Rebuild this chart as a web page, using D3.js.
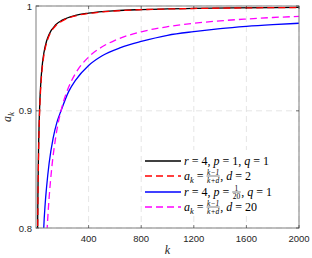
<!DOCTYPE html>
<html>
<head>
  <meta charset="UTF-8">
  <title>a_k curves</title>
  <style>
    body { margin: 0; background: #fff; }
    svg { display: block; }
  </style>
</head>
<body>
<svg></svg>
<script src="https://d3js.org/d3.v7.min.js"></script>
<script>
    let width = 312, height = 258;

    // data
    var kBlack = [10, 12, 15, 20, 25, 30, 40, 50, 60, 80, 100, 150, 200, 300, 400, 600, 800, 1000, 1200, 1500, 2000];
    var aBlack = [0.7625, 0.7964, 0.8324, 0.8705, 0.8944, 0.9109, 0.9321, 0.9452, 0.954, 0.9652, 0.9721, 0.9813, 0.9859, 0.9906, 0.9929, 0.9953, 0.9964, 0.9971, 0.9976, 0.9981, 0.9986];

    var kRed = [10, 12, 15, 20, 25, 30, 40, 50, 60, 80, 100, 150, 200, 300, 400, 600, 800, 1000, 1200, 1500, 2000];
    var aRed = [0.75, 0.7857, 0.8235, 0.8636, 0.8889, 0.9063, 0.9286, 0.9423, 0.9516, 0.9634, 0.9706, 0.9803, 0.9851, 0.9901, 0.9925, 0.995, 0.9963, 0.997, 0.9975, 0.998, 0.9985];

    var kBlue = [50, 59, 70, 80, 100, 130, 160, 190, 250, 300, 400, 500, 643, 800, 1000, 1200, 1400, 1600, 1800, 2000];
    var aBlue = [0.77, 0.8, 0.82, 0.833, 0.854, 0.8755, 0.89, 0.9, 0.918, 0.928, 0.942, 0.951, 0.959, 0.965, 0.971, 0.9746, 0.9775, 0.9797, 0.9814, 0.9828];

    var kMag = [60, 80, 90, 100, 120, 150, 200, 250, 300, 400, 500, 600, 800, 1000, 1200, 1400, 1600, 1800, 2000];
    var aMag = [0.7375, 0.79, 0.809, 0.825, 0.85, 0.8765, 0.9045, 0.9222, 0.9344, 0.95, 0.9596, 0.9661, 0.9744, 0.9794, 0.9828, 0.9852, 0.987, 0.9885, 0.9896];

    var xTicks = [400, 800, 1200, 1600, 2000];
    var yTicks = [0.8, 0.9, 1];

    var pLeft = 36, pRight = 299, pTop = 6, pBottom = 228;

    let svg = d3.select("svg")
        .attr("width", width)
        .attr("height", height)
        .attr("viewBox", "0 0 " + width + " " + height);

    var x = d3.scaleLinear().domain([0, 2000]).range([pLeft, pRight]);
    var y = d3.scaleLog().domain([0.8, 1]).range([pBottom, pTop]);

    svg.append("clipPath").attr("id", "clip")
        .append("rect")
        .attr("x", pLeft).attr("y", pTop)
        .attr("width", pRight - pLeft).attr("height", pBottom - pTop);

    // grid
    var grid = svg.append("g")
        .attr("stroke", "#dedede")
        .attr("stroke-width", 0.8)
        .attr("stroke-dasharray", "6,4");
    grid.selectAll("line.gx")
        .data(xTicks)
        .enter().append("line")
        .attr("x1", d => x(d)).attr("x2", d => x(d))
        .attr("y1", pTop).attr("y2", pBottom);
    grid.selectAll("line.gy")
        .data(yTicks)
        .enter().append("line")
        .attr("x1", pLeft).attr("x2", pRight)
        .attr("y1", d => y(d)).attr("y2", d => y(d));

    // curves
    var series = [
        {k: kBlack, a: aBlack, color: "#000000", dash: null},
        {k: kRed, a: aRed, color: "#ff0000", dash: "7,4"},
        {k: kBlue, a: aBlue, color: "#0000ff", dash: null},
        {k: kMag, a: aMag, color: "#ff00ff", dash: "7,4"}
    ];

    var line = d3.line()
        .x(d => x(d[0]))
        .y(d => y(d[1]))
        .curve(d3.curveMonotoneX);

    var plot = svg.append("g").attr("clip-path", "url(#clip)");
    series.forEach(function (s) {
        plot.append("path")
            .datum(d3.zip(s.k, s.a))
            .attr("d", line)
            .attr("fill", "none")
            .attr("stroke", s.color)
            .attr("stroke-width", 1.3)
            .attr("stroke-dasharray", s.dash);
    });

    // axes box
    var axisColor = "#262626";
    svg.append("rect")
        .attr("x", pLeft).attr("y", pTop)
        .attr("width", pRight - pLeft).attr("height", pBottom - pTop)
        .attr("fill", "none")
        .attr("stroke", "#7f7f7f")
        .attr("stroke-width", 1);

    // ticks (inward, mirrored)
    var tk = svg.append("g").attr("stroke", axisColor).attr("stroke-width", 0.6);
    xTicks.forEach(function (d) {
        tk.append("line").attr("x1", x(d)).attr("x2", x(d)).attr("y1", pBottom).attr("y2", pBottom - 3);
        tk.append("line").attr("x1", x(d)).attr("x2", x(d)).attr("y1", pTop).attr("y2", pTop + 3);
    });
    yTicks.forEach(function (d) {
        tk.append("line").attr("x1", pLeft).attr("x2", pLeft + 3).attr("y1", y(d)).attr("y2", y(d));
        tk.append("line").attr("x1", pRight).attr("x2", pRight - 3).attr("y1", y(d)).attr("y2", y(d));
    });

    svg.append("g")
        .selectAll("text")
        .data(xTicks)
        .enter().append("text")
        .attr("x", d => x(d))
        .attr("y", pBottom + 14)
        .attr("text-anchor", "middle")
        .attr("font-family", "Liberation Sans, Arial, sans-serif")
        .attr("font-size", 9.5)
        .attr("fill", axisColor)
        .text(d => d);

    svg.append("g")
        .selectAll("text")
        .data(yTicks)
        .enter().append("text")
        .attr("x", pLeft - 4)
        .attr("y", d => y(d) + 3.5)
        .attr("text-anchor", "end")
        .attr("font-family", "Liberation Sans, Arial, sans-serif")
        .attr("font-size", 9.5)
        .attr("fill", axisColor)
        .text(d => d);

    // axis labels
    svg.append("text")
        .attr("x", (pLeft + pRight) / 2)
        .attr("y", 254)
        .attr("text-anchor", "middle")
        .attr("font-family", "Liberation Serif, serif")
        .attr("font-style", "italic")
        .attr("font-size", 12)
        .attr("fill", axisColor)
        .text("k");

    var yl = svg.append("text")
        .attr("transform", "translate(11," + ((pTop + pBottom) / 2) + ") rotate(-90)")
        .attr("text-anchor", "middle")
        .attr("font-family", "Liberation Serif, serif")
        .attr("font-style", "italic")
        .attr("font-size", 12)
        .attr("fill", axisColor);
    yl.append("tspan").text("a");
    yl.append("tspan").attr("font-size", 9).attr("dy", 2.5).text("k");

    // legend
    var legendX = 143, legendY = 150;
    svg.append("rect")
        .attr("x", legendX).attr("y", legendY)
        .attr("width", pRight - 1 - legendX).attr("height", 62)
        .attr("fill", "#fff");

    var labels = [
        [["r", 1], [" = 4, ", 0], ["p", 1], [" = 1, ", 0], ["q", 1], [" = 1", 0]],
        [["a", 1], ["k", 2], [" = ", 0], ["frac", "k\u22121", "k+d"], [", ", 0], ["d", 1], [" = 2", 0]],
        [["r", 1], [" = 4, ", 0], ["p", 1], [" = ", 0], ["frac", "1", "20"], [", ", 0], ["q", 1], [" = 1", 0]],
        [["a", 1], ["k", 2], [" = ", 0], ["frac", "k\u22121", "k+d"], [", ", 0], ["d", 1], [" = 20", 0]]
    ];
    var rowY = [161, 176, 192, 207];
    var fs = 12;

    series.forEach(function (s, i) {
        var g = svg.append("g");
        g.append("line")
            .attr("x1", 145).attr("x2", 181)
            .attr("y1", rowY[i]).attr("y2", rowY[i])
            .attr("stroke", s.color)
            .attr("stroke-width", 1.3)
            .attr("stroke-dasharray", s.dash);

        var cx = 184, base = rowY[i] + 4;
        labels[i].forEach(function (p) {
            if (p[0] === "frac") {
                var isNum = /^\d+$/.test(p[1]);
                var t1 = g.append("text")
                    .attr("y", base - 5.5)
                    .attr("font-family", "Liberation Serif, serif")
                    .attr("font-style", isNum ? "normal" : "italic")
                    .attr("font-size", 7.5)
                    .text(p[1]);
                var t2 = g.append("text")
                    .attr("y", base + 3)
                    .attr("font-family", "Liberation Serif, serif")
                    .attr("font-style", isNum ? "normal" : "italic")
                    .attr("font-size", 7.5)
                    .text(p[2]);
                var w1 = t1.node().getComputedTextLength();
                var w2 = t2.node().getComputedTextLength();
                var w = Math.max(w1, w2) + 1;
                t1.attr("x", cx + (w - w1) / 2);
                t2.attr("x", cx + (w - w2) / 2);
                g.append("line")
                    .attr("x1", cx).attr("x2", cx + w)
                    .attr("y1", base - 4).attr("y2", base - 4)
                    .attr("stroke", "#000").attr("stroke-width", 0.5);
                cx += w + 0.5;
            } else {
                var t = g.append("text")
                    .attr("x", cx)
                    .attr("y", p[1] === 2 ? base + 2.5 : base)
                    .attr("font-family", "Liberation Serif, serif")
                    .attr("font-style", p[1] ? "italic" : "normal")
                    .attr("font-size", p[1] === 2 ? 8.5 : fs)
                    .style("white-space", "pre")
                    .text(p[0]);
                cx += t.node().getComputedTextLength();
            }
        });
    });
</script>
</body>
</html>
